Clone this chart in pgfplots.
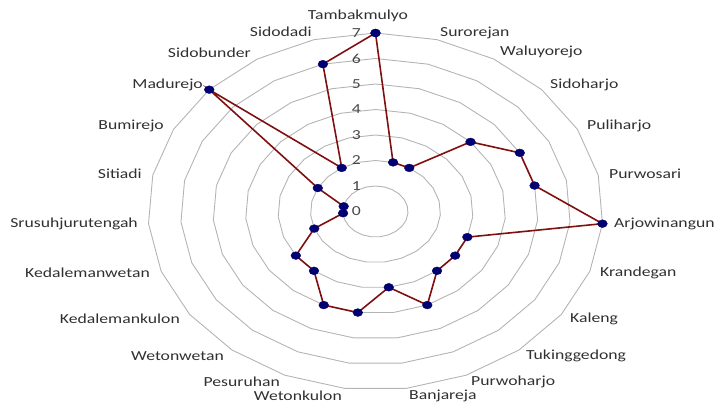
\documentclass[border=0pt]{standalone}
\usepackage{pgfplots}
\pgfplotsset{compat=1.18}
\usepackage{pgfplotstable}
\usepackage{graphicx}
\usepackage{fontspec}
\setmainfont{Carlito}
\definecolor{gridc}{RGB}{180,180,180}
\definecolor{linec}{RGB}{128,16,16}
\definecolor{markc}{RGB}{0,0,112}
\definecolor{txtc}{RGB}{48,48,48}
\definecolor{tickc}{RGB}{72,72,72}
\newcommand{\lbl}[1]{\scalebox{1.28}[1]{#1}}

% values clockwise from Tambakmulyo; last row closes the polygon
\pgfplotstableread{
i v
0 7
1 2
2 2
3 4
4 5
5 5
6 7
7 3
8 3
9 3
10 4
11 3
12 4
13 4
14 3
15 3
16 2
17 1
18 1
19 2
20 7
21 2
22 6
23 7
}\radardata

\begin{document}
\begin{tikzpicture}[x=1pt,y=1pt]
\useasboundingbox (-375.5,-192.5) rectangle (342.5,211.5);
\foreach \r in {1,...,7}{
  \draw[gridc, line width=0.9pt] (0,{\r*25.5}) \foreach \k in {1,...,22}{ -- ({\r*32.5*sin(\k*360/23)},{\r*25.5*cos(\k*360/23)}) } -- cycle;
}
\begin{axis}[at={(0,0)}, anchor=center, scale only axis,
  width=487.5pt, height=382.5pt,
  xmin=-7.5, xmax=7.5, ymin=-7.5, ymax=7.5,
  hide axis, clip=false]
\addplot[linec, line width=1.6pt, mark=*, mark size=3.9pt,
  mark options={fill=markc, draw=markc, line width=0.4pt, xscale=1.25}]
  table[x expr={\thisrow{v}*sin(\thisrow{i}*360/23)},
        y expr={\thisrow{v}*cos(\thisrow{i}*360/23)}] {\radardata};
\end{axis}
\begin{scope}[every node/.style={font=\fontsize{13.8pt}{16pt}\selectfont, text=txtc, inner sep=0pt}]
\foreach \k in {0,...,7}{
  \node[anchor=east, text=tickc] at (-14.5,{\k*25.5}) {\lbl{\k}};
}
\node[anchor=center] at (-17.5,195.5) {\lbl{Tambakmulyo}};
\node[anchor=west] at (64.5,178.5) {\lbl{Surorejan}};
\node[anchor=west] at (124.5,159.5) {\lbl{Waluyorejo}};
\node[anchor=west] at (174.5,126.5) {\lbl{Sidoharjo}};
\node[anchor=west] at (211.5,85.5) {\lbl{Puliharjo}};
\node[anchor=west] at (233.5,37.5) {\lbl{Purwosari}};
\node[anchor=west] at (238.5,-12.5) {\lbl{Arjowinangun}};
\node[anchor=west] at (224.5,-61.5) {\lbl{Krandegan}};
\node[anchor=west] at (194.5,-107.5) {\lbl{Kaleng}};
\node[anchor=west] at (150.5,-144.5) {\lbl{Tukinggedong}};
\node[anchor=west] at (95.5,-170.5) {\lbl{Purwoharjo}};
\node[anchor=west] at (33.5,-184.5) {\lbl{Banjareja}};
\node[anchor=east] at (-33.5,-184.5) {\lbl{Wetonkulon}};
\node[anchor=east] at (-95.5,-170.5) {\lbl{Pesuruhan}};
\node[anchor=east] at (-151.5,-144.5) {\lbl{Wetonwetan}};
\node[anchor=east] at (-195.5,-107.5) {\lbl{Kedalemankulon}};
\node[anchor=east] at (-225.5,-61.5) {\lbl{Kedalemanwetan}};
\node[anchor=east] at (-237.5,-12.5) {\lbl{Srusuhjurutengah}};
\node[anchor=east] at (-233.5,37.5) {\lbl{Sitiadi}};
\node[anchor=east] at (-211.5,85.5) {\lbl{Bumirejo}};
\node[anchor=east] at (-172.5,126.5) {\lbl{Madurejo}};
\node[anchor=east] at (-124.5,158.5) {\lbl{Sidobunder}};
\node[anchor=east] at (-63.5,179.5) {\lbl{Sidodadi}};
\end{scope}
\end{tikzpicture}
\end{document}
